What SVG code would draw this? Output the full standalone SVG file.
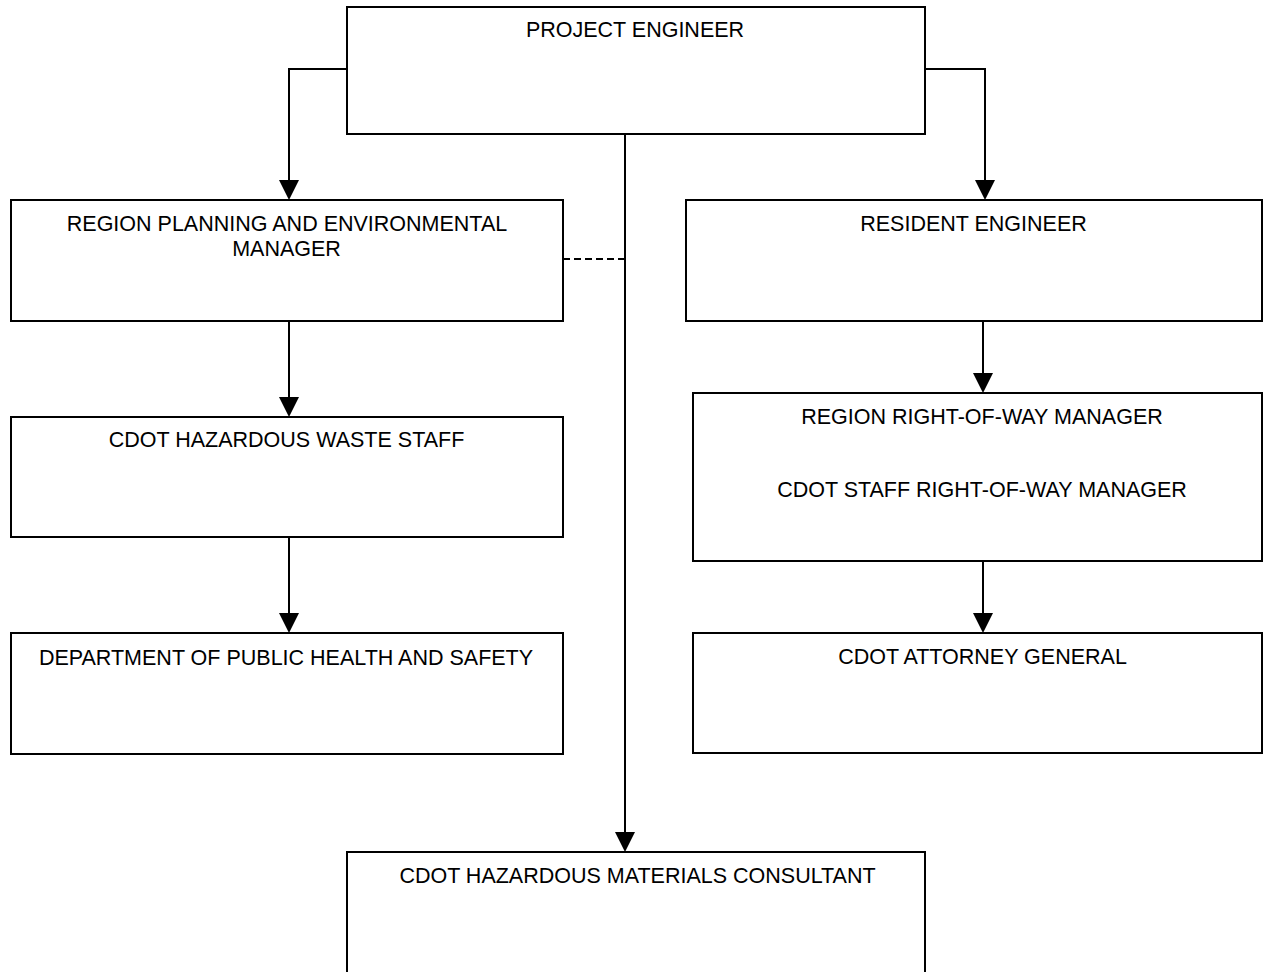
<svg xmlns="http://www.w3.org/2000/svg" width="1270" height="972" viewBox="0 0 1270 972">
<style>
.box{fill:#fff;stroke:#000;stroke-width:2}
.ln{fill:none;stroke:#000;stroke-width:2}
.dash{fill:none;stroke:#000;stroke-width:2;stroke-dasharray:7,4}
.ah{fill:#000}
text{font-family:"Liberation Sans",Arial,sans-serif;font-size:21.5px;fill:#000;text-anchor:middle}
</style>
<rect width="1270" height="972" fill="#fff"/>
<g id="connectors">
<path class="ln" d="M347,69 H289 V182"/>
<polygon class="ah" points="279,180 299,180 289,200"/>
<path class="ln" d="M925,69 H985 V182"/>
<polygon class="ah" points="975,180 995,180 985,200"/>
<path class="ln" d="M625,134 V834"/>
<polygon class="ah" points="615,832 635,832 625,852"/>
<path class="dash" d="M563,259 H625"/>
<path class="ln" d="M289,321 V399"/>
<polygon class="ah" points="279,397 299,397 289,417"/>
<path class="ln" d="M289,537 V615"/>
<polygon class="ah" points="279,613 299,613 289,633"/>
<path class="ln" d="M983,321 V375"/>
<polygon class="ah" points="973,373 993,373 983,393"/>
<path class="ln" d="M983,561 V615"/>
<polygon class="ah" points="973,613 993,613 983,633"/>
</g>
<g id="project-engineer">
<rect class="box" x="347" y="7" width="578" height="127"/>
<text x="635" y="37">PROJECT ENGINEER</text>
</g>
<g id="region-planning">
<rect class="box" x="11" y="200" width="552" height="121"/>
<text x="287" y="230.5">REGION PLANNING AND ENVIRONMENTAL</text>
<text x="286.5" y="255.5">MANAGER</text>
</g>
<g id="resident-engineer">
<rect class="box" x="686" y="200" width="576" height="121"/>
<text x="973.5" y="230.5">RESIDENT ENGINEER</text>
</g>
<g id="hazardous-waste-staff">
<rect class="box" x="11" y="417" width="552" height="120"/>
<text x="286.5" y="446.5">CDOT HAZARDOUS WASTE STAFF</text>
</g>
<g id="public-health">
<rect class="box" x="11" y="633" width="552" height="121"/>
<text x="286" y="664.5">DEPARTMENT OF PUBLIC HEALTH AND SAFETY</text>
</g>
<g id="right-of-way">
<rect class="box" x="693" y="393" width="569" height="168"/>
<text x="982" y="423.5">REGION RIGHT-OF-WAY MANAGER</text>
<text x="982" y="496.5">CDOT STAFF RIGHT-OF-WAY MANAGER</text>
</g>
<g id="attorney-general">
<rect class="box" x="693" y="633" width="569" height="120"/>
<text x="982.5" y="663.5">CDOT ATTORNEY GENERAL</text>
</g>
<g id="materials-consultant">
<rect class="box" x="347" y="852" width="578" height="140"/>
<text x="637.5" y="882.5">CDOT HAZARDOUS MATERIALS CONSULTANT</text>
</g>
</svg>
